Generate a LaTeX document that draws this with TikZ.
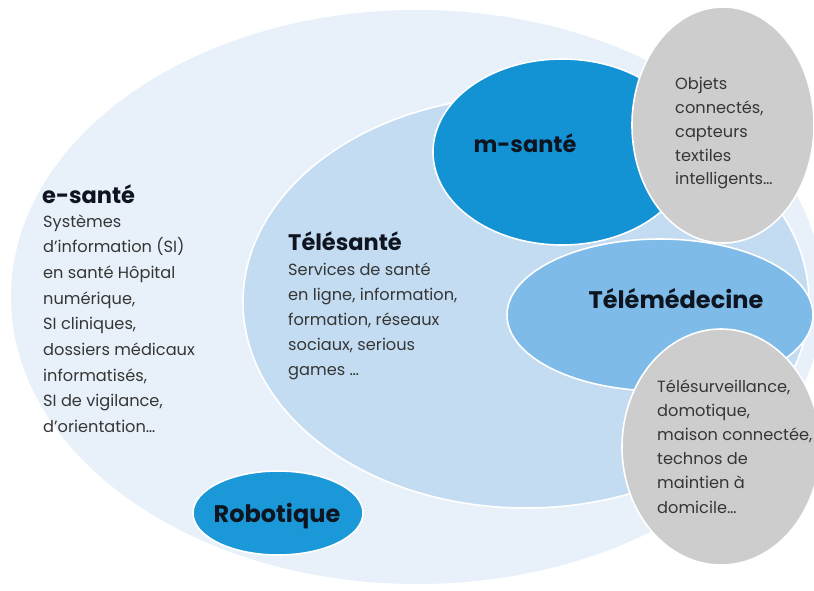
\documentclass[tikz,border=0pt]{standalone}
\usepackage{fontspec}
\setmainfont{Poppins}
\usetikzlibrary{shapes.geometric}
\definecolor{cOuter}{HTML}{E8F1FA}
\definecolor{cTele}{HTML}{C3DCF1}
\definecolor{cMs}{HTML}{1493D4}
\definecolor{cTmed}{HTML}{7EBBE8}
\definecolor{cRob}{HTML}{1A98D7}
\definecolor{cGray}{HTML}{CDCDCD}
\definecolor{cTxt}{HTML}{363636}
\definecolor{cTitle}{HTML}{0E1520}
\tikzset{
  blob/.style={ellipse, inner sep=0pt, draw=white, line width=1.6pt},
  title/.style={font=\fontsize{22.5}{24}\selectfont\bfseries, text=cTitle, inner sep=0pt},
  bigtitle/.style={title, font=\fontsize{24}{26}\selectfont\bfseries},
  body/.style={font=\fontsize{16.2}{25}\selectfont, text=cTxt, inner sep=0pt, align=left, anchor=base west},
}
\begin{document}
\begin{tikzpicture}[x=1pt,y=-1pt]
\useasboundingbox[fill=white] (0,0) rectangle (814,591);
\node[blob, draw=none, fill=cOuter, minimum width=812pt, minimum height=574pt] (outer) at (417,297) {};
\node[blob, fill=cTele, minimum width=566pt, minimum height=412pt] (tele) at (526,302) {};
\node[blob, fill=cRob, minimum width=170pt, minimum height=84pt] (rob) at (278,513) {};
\node[blob, fill=cTmed, minimum width=306pt, minimum height=152pt] (tmed) at (660,315) {};
\node[blob, fill=cMs, minimum width=258pt, minimum height=186pt] (ms) at (562,152) {};
\node[blob, fill=cGray, minimum width=182pt, minimum height=236pt] (g1) at (723,125) {};
\node[blob, fill=cGray, minimum width=198pt, minimum height=236pt] (g2) at (721,447) {};

\node[title, anchor=base west] (t-es) at (42,203) {e-santé};
\node[body, font=\fontsize{16.2}{25.7}\selectfont] (b-es) at (43,432.6) {Systèmes\\d’information (SI)\\en santé Hôpital\\numérique,\\SI cliniques,\\dossiers médicaux\\informatisés,\\SI de vigilance,\\d’orientation…};
\node[title, anchor=base west] (t-ts) at (288,250) {Télésanté};
\node[body] (b-ts) at (288,375) {Services de santé\\en ligne, information,\\formation, réseaux\\sociaux, serious\\games …};
\node[title, anchor=base] (t-ms) at (525,153) {m-santé};
\node[bigtitle, anchor=base] (t-tm) at (676,308) {Télémédecine};
\node[bigtitle, anchor=base] (t-rob) at (277,522) {Robotique};
\node[body, font=\fontsize{16.2}{23.8}\selectfont] (b-g1) at (675,185) {Objets\\connectés,\\capteurs\\textiles\\intelligents…};
\node[body, font=\fontsize{16.2}{24.2}\selectfont] (b-g2) at (657,513) {Télésurveillance,\\domotique,\\maison connectée,\\technos de\\maintien à\\domicile…};
\end{tikzpicture}
\end{document}
